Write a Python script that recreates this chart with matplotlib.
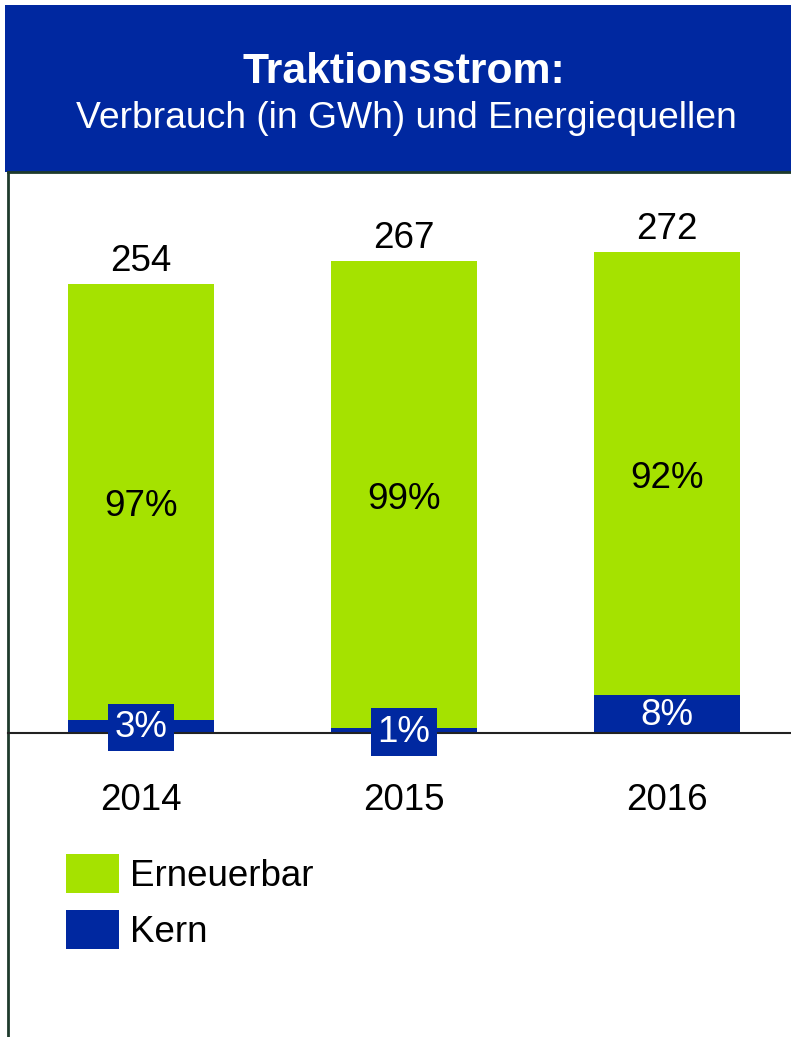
import matplotlib
matplotlib.use("Agg")
import matplotlib.pyplot as plt
from matplotlib.patches import Rectangle

plt.rcParams['font.family'] = ['Liberation Sans', 'DejaVu Sans']

# Daten
years = ["2014", "2015", "2016"]
total_gwh = [254, 267, 272]
share_ern = [97, 99, 92]
share_kern = [3, 1, 8]
series_labels = ["Erneuerbar", "Kern"]

GREEN = "#a5e200"
BLUE = "#0028a0"
LINE = "#1e3a2c"
FS = 26.5

W, H = 791, 1037
fig = plt.figure(figsize=(W / 100, H / 100), dpi=100)

# blauer Titelkasten
fig.add_artist(Rectangle((5 / W, 1 - 172 / H), 1 - 5 / W, 167 / H,
                         transform=fig.transFigure, facecolor=BLUE,
                         edgecolor="none", zorder=0))
fig.text(404 / W, 1 - 72 / H, "Traktionsstrom:", color="white", fontsize=30.8,
         fontweight="bold", ha="center", va="center")
fig.text(406 / W, 1 - 119 / H, "Verbrauch (in GWh) und Energiequellen",
         color="white", fontsize=26.8, ha="center", va="center")

ax = fig.add_axes([8 / W, 0, (W - 8) / W, (H - 172) / H])
scale = 1.767  # px pro GWh
ax.set_ylim(-(H - 733) / scale, (733 - 172) / scale)
ax.set_xlim(-(141 - 8) / 263, 2 + (W - 667) / 263)

ax.spines["right"].set_visible(False)
ax.spines["bottom"].set_position(("data", 0))
ax.spines["bottom"].set_color("#222222")
ax.spines["bottom"].set_linewidth(1.5)
ax.spines["left"].set_color(LINE)
ax.spines["left"].set_linewidth(2)
ax.spines["top"].set_color(LINE)
ax.spines["top"].set_linewidth(2)
ax.patch.set_alpha(0)

x = list(range(len(years)))
kern = [t * s / 100 for t, s in zip(total_gwh, share_kern)]
ern = [t * s / 100 for t, s in zip(total_gwh, share_ern)]

b_kern = ax.bar(x, kern, width=0.555, color=BLUE, zorder=2)
b_ern = ax.bar(x, ern, bottom=kern, width=0.555, color=GREEN, zorder=2)

for i in x:
    ax.annotate(f"{share_ern[i]}%", (i, kern[i] + ern[i] / 2),
                xytext=(0, -3.5), textcoords="offset points", ha="center",
                va="center", fontsize=FS, zorder=3)
    box = None
    if kern[i] * scale < 30:
        box = dict(facecolor=BLUE, edgecolor="none", pad=4.5)
    ax.annotate(f"{share_kern[i]}%", (i, kern[i] / 2), xytext=(0, -1),
                textcoords="offset points", ha="center", va="center",
                fontsize=FS, color="white", bbox=box, zorder=4)
    ax.annotate(str(total_gwh[i]), (i, total_gwh[i]), xytext=(0, 4),
                textcoords="offset points", ha="center", va="bottom",
                fontsize=FS)

ax.set_xticks(x)
ax.set_xticklabels(years)
ax.tick_params(axis="x", length=0, pad=36, labelsize=FS)
ax.set_yticks([])

ax.legend([b_ern, b_kern], series_labels, loc="upper left",
          bbox_to_anchor=(66 / W, 1 - 854 / H), bbox_transform=fig.transFigure,
          frameon=False, borderpad=0, borderaxespad=0, handlelength=1.43,
          handleheight=1.27, handletextpad=0.3, labelspacing=0.42,
          fontsize=FS)

fig.savefig("out.png", dpi=100)
